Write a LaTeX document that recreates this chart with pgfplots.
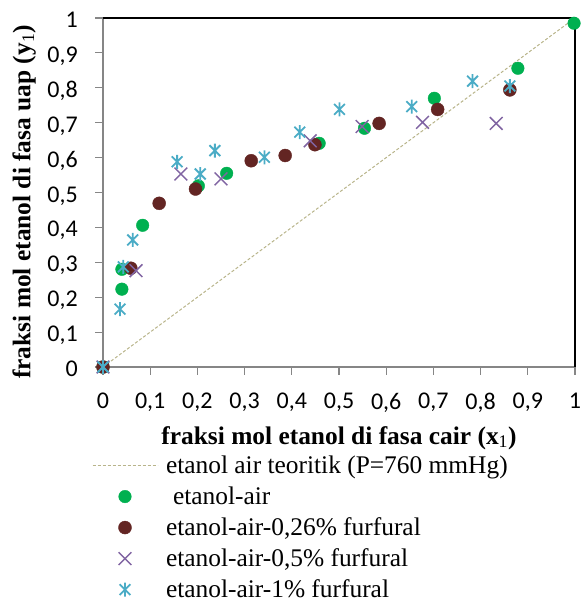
\documentclass[border=0pt]{standalone}
\usepackage{pgfplots}
\pgfplotsset{compat=1.18}
\usepackage{fontspec}
\setmainfont{Liberation Serif}
\newfontfamily\carlito{Carlito}
\usetikzlibrary{calc}
\definecolor{cgreen}{HTML}{00B050}
\definecolor{cmaroon}{HTML}{632523}
\definecolor{cpurple}{HTML}{8064A2}
\definecolor{ccyan}{HTML}{4BACC6}
\definecolor{ctan}{HTML}{B8B48A}
\definecolor{caxis}{HTML}{868686}
\pgfdeclareplotmark{xstar}{%
  \pgfpathmoveto{\pgfqpoint{-0.77\pgfplotmarksize}{-0.77\pgfplotmarksize}}%
  \pgfpathlineto{\pgfqpoint{0.77\pgfplotmarksize}{0.77\pgfplotmarksize}}%
  \pgfpathmoveto{\pgfqpoint{-0.77\pgfplotmarksize}{0.77\pgfplotmarksize}}%
  \pgfpathlineto{\pgfqpoint{0.77\pgfplotmarksize}{-0.77\pgfplotmarksize}}%
  \pgfpathmoveto{\pgfqpoint{0pt}{-\pgfplotmarksize}}%
  \pgfpathlineto{\pgfqpoint{0pt}{\pgfplotmarksize}}%
  \pgfusepathqstroke}
\pgfplotsset{
  lineleg/.style={legend image code/.code={\draw[##1] (0bp,0bp) -- (65bp,0bp);}},
  markleg/.style={legend image code/.code={\draw[mark repeat=2,mark phase=2,##1] plot coordinates {(0bp,0bp) (32.5bp,0bp) (65bp,0bp)};}},
}
\newcommand{\tickfont}{\carlito\fontsize{24bp}{24bp}\selectfont}

\pgfplotstableread{
x y
0 0
0.040 0.223
0.040 0.280
0.084 0.406
0.202 0.519
0.262 0.555
0.458 0.641
0.554 0.684
0.702 0.770
0.879 0.856
0.998 0.985
}\tgreen
\pgfplotstableread{
x y
0 0
0.059 0.283
0.119 0.469
0.196 0.510
0.314 0.591
0.386 0.606
0.449 0.637
0.585 0.698
0.709 0.738
0.862 0.794
}\tmaroon
\pgfplotstableread{
x y
0 0
0.070 0.276
0.165 0.553
0.250 0.539
0.439 0.648
0.549 0.689
0.677 0.701
0.833 0.698
}\tpurple
\pgfplotstableread{
x y
0 0
0.036 0.166
0.043 0.287
0.063 0.364
0.157 0.588
0.206 0.553
0.237 0.620
0.342 0.601
0.417 0.673
0.501 0.738
0.654 0.746
0.783 0.819
0.862 0.805
}\tcyan

\begin{document}
\begin{tikzpicture}
\begin{axis}[
  name=ax,
  scale only axis, width=472bp, height=349bp,
  xmin=0, xmax=1, ymin=0, ymax=1,
  clip=false,
  axis lines=left,
  axis line style={-, draw=caxis, line width=1.2bp},
  tick align=outside,
  major tick length=7.5bp,
  tick style={draw=caxis, line width=1.2bp},
  xtick={0,0.1,0.2,0.3,0.4,0.5,0.6,0.7,0.8,0.9,1},
  ytick={0,0.1,0.2,0.3,0.4,0.5,0.6,0.7,0.8,0.9,1},
  xticklabels={0,{0,1},{0,2},{0,3},{0,4},{0,5},{0,6},{0,7},{0,8},{0,9},1},
  yticklabels={0,{0,1},{0,2},{0,3},{0,4},{0,5},{0,6},{0,7},{0,8},{0,9},1},
  tick label style={font=\tickfont, text=black},
  xticklabel style={anchor=north, inner sep=0pt, yshift=-18.5bp},
  yticklabel style={anchor=base east, inner sep=0pt, xshift=-17.5bp, yshift=-9.5bp},
  xlabel={\bfseries fraksi mol etanol di fasa cair (x{\mdseries\textsubscript{1}})},
  ylabel={\bfseries fraksi mol etanol di fasa uap (y{\mdseries\textsubscript{1}})},
  label style={font=\fontsize{25.5}{30}\selectfont},
  xlabel style={at={(axis description cs:0.5,-0.203)}, anchor=center},
  ylabel style={at={(axis description cs:-0.167,0.473)}, anchor=center},
  legend cell align=left,
  legend style={at={(axis description cs:-0.0233,-0.238)}, anchor=north west,
    draw=none, fill=none, inner sep=0pt, outer sep=0pt,
    font=\fontsize{25.5}{31}\selectfont,
    nodes={inner sep=0pt, text height=23bp, text depth=8bp},
    column sep=8bp},
]
\addplot[ctan, line width=1bp, dash pattern=on 3bp off 2bp, lineleg]
  coordinates {(0,0) (1,1)};
\addlegendentry{etanol air teoritik (P=760 mmHg)}
\addplot[only marks, mark=*, mark size=6.3bp, draw=cgreen, fill=cgreen, markleg]
  table[x=x,y=y]{\tgreen};
\addlegendentry{\hspace{7bp}etanol-air}
\addplot[only marks, mark=*, mark size=6.5bp, draw=cmaroon, fill=cmaroon, markleg]
  table[x=x,y=y]{\tmaroon};
\addlegendentry{etanol-air-0,26\% furfural}
\addplot[only marks, mark=x, mark size=9bp, draw=cpurple, line width=1.5bp, markleg]
  table[x=x,y=y]{\tpurple};
\addlegendentry{etanol-air-0,5\% furfural}
\addplot[only marks, mark=xstar, mark size=7bp, draw=ccyan, line width=1.8bp, markleg]
  table[x=x,y=y]{\tcyan};
\addlegendentry{etanol-air-1\% furfural}
\draw[black, line width=1.6bp] (rel axis cs:0,1) -- (rel axis cs:1,1) -- (rel axis cs:1,0);
\end{axis}
\pgfresetboundingbox
\path ($(ax.south west)+(-103bp,-236bp)$) rectangle ($(ax.north east)+(9bp,18bp)$);
\end{tikzpicture}
\end{document}
